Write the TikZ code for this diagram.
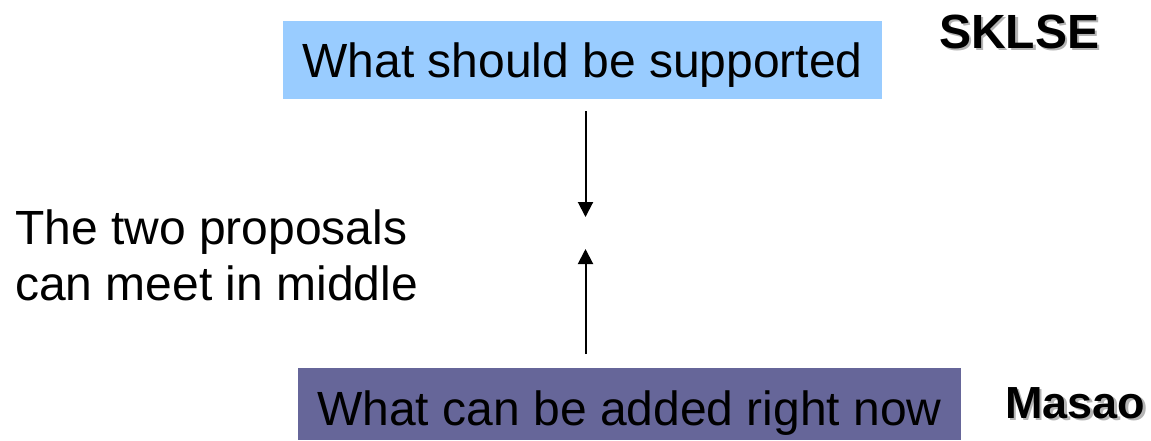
\documentclass[tikz,border=0pt]{standalone}
\usepackage{fontspec}
\setmainfont{Liberation Sans}
\usetikzlibrary{arrows.meta}
\definecolor{lightblue}{HTML}{99CCFF}
\definecolor{slate}{HTML}{666699}
\definecolor{shade}{HTML}{B4B4B4}
\tikzset{
  big/.style={font=\fontsize{48}{56}\selectfont},
  box/.style={big, inner sep=0pt, anchor=north},
  tag/.style={font=\fontsize{#1}{56}\selectfont\bfseries, anchor=base west, inner sep=0pt},
  tag/.default=48,
  meetarrow/.style={line width=2pt, -{Triangle[width=15pt,length=15pt]}}
}
\begin{document}
\begin{tikzpicture}[x=1pt,y=-1pt]
  \useasboundingbox (0,0) rectangle (1151,440);
  % the two boxes
  \node[box, fill=lightblue, minimum width=599pt, text height=56pt, text depth=22pt] (top) at (582.5,21) {What should be supported};
  \node[box, fill=slate, minimum width=663pt, text height=57pt, text depth=15pt] (bottom) at (629.5,368) {What can be added right now};
  % names
  \node[tag, text=shade] (sklseshadow) at (941.5,50.5) {SKLSE};
  \node[tag] (sklse) at (939,48) {SKLSE};
  \node[tag=45, text=shade] (masaoshadow) at (1007.5,420.5) {Masao};
  \node[tag=45] (masao) at (1005,418) {Masao};
  % note
  \node[big, anchor=base west, align=left, inner sep=0pt] (note) at (15,300) {The two proposals\\can meet in middle};
  % arrows
  \coordinate (meet) at (585.5,233);
  \draw[meetarrow, shorten <=12pt, shorten >=16pt] (top.south -| meet) -- (meet);
  \draw[meetarrow, shorten <=14pt, shorten >=16pt] (bottom.north -| meet) -- (meet);
\end{tikzpicture}
\end{document}
